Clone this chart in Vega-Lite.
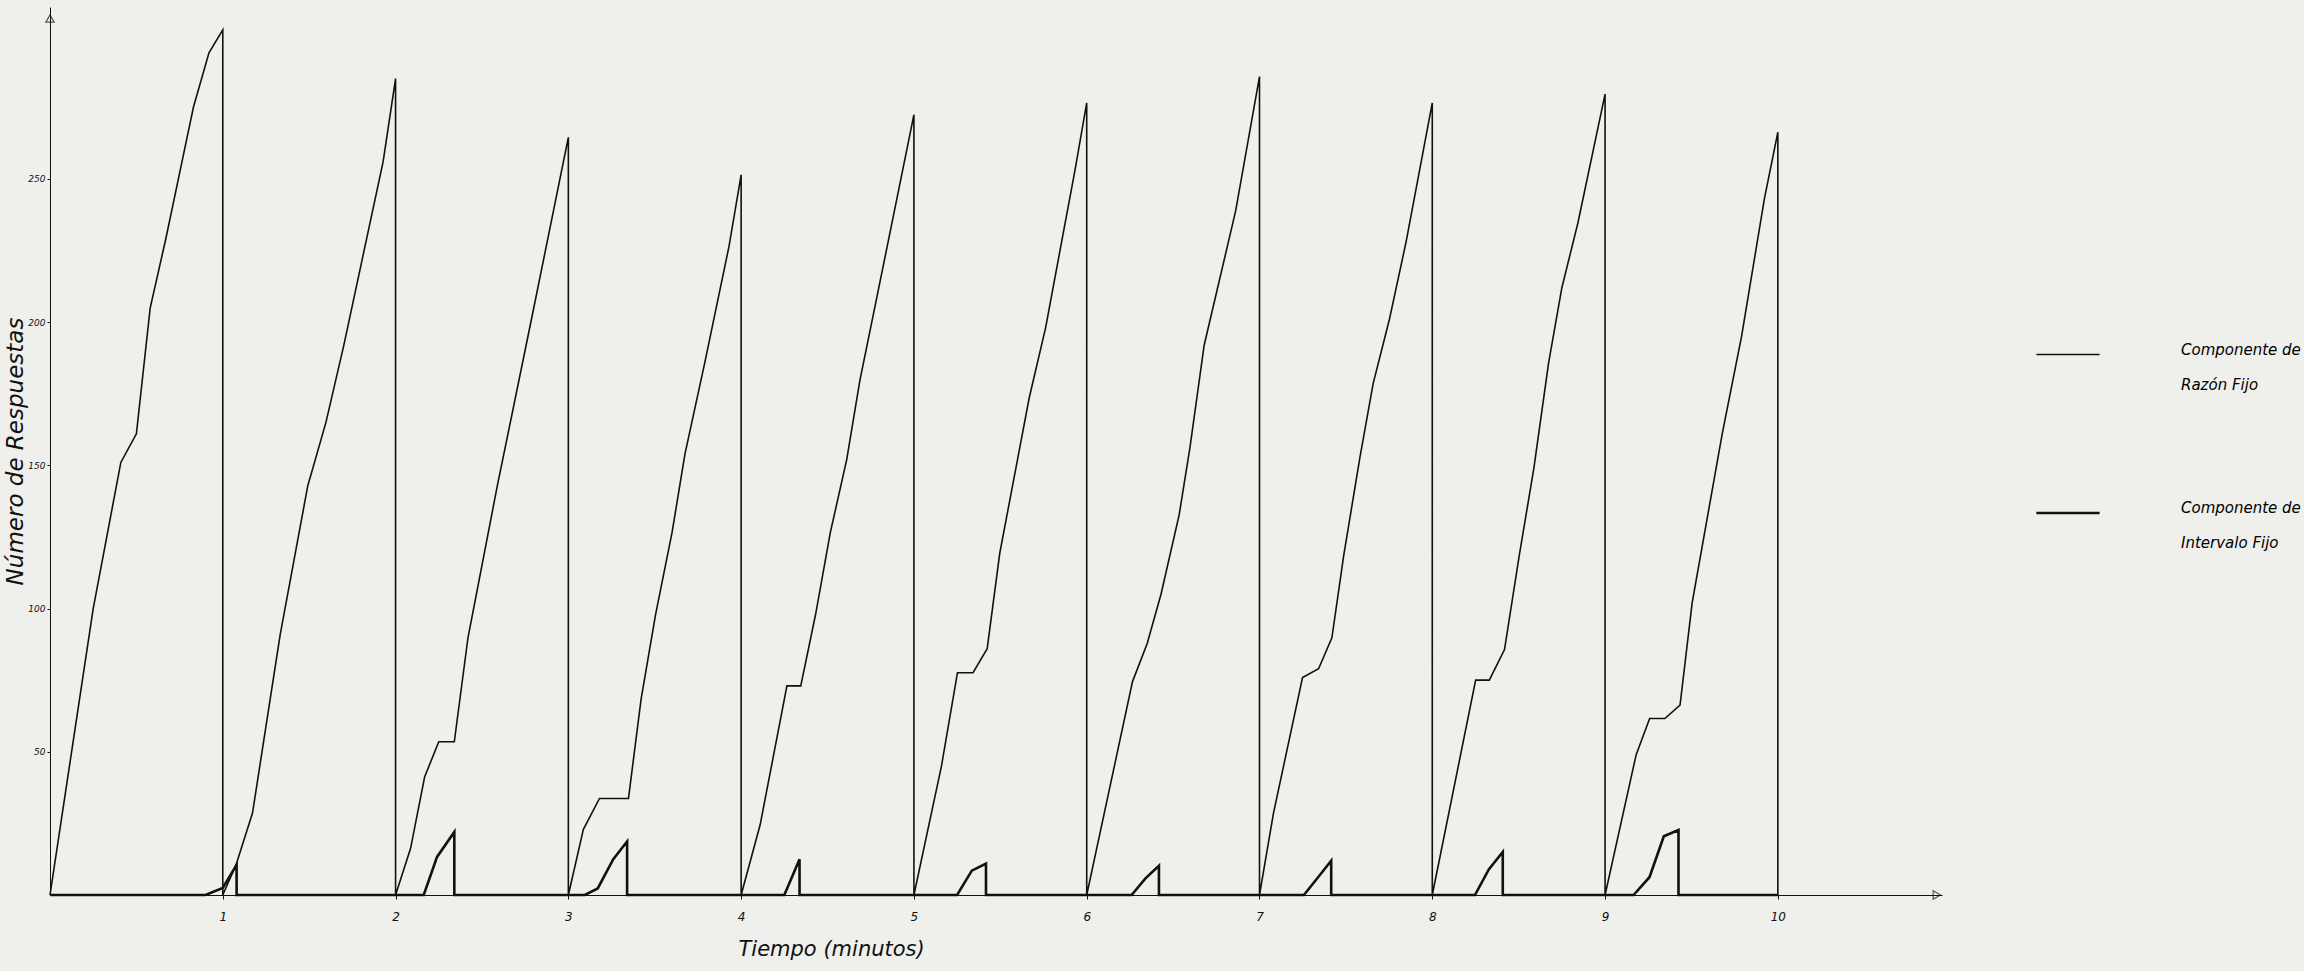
{
  "$schema": "https://vega.github.io/schema/vega-lite/v6.json",
  "autosize": {"type": "none"},
  "padding": {"left": 50, "top": 7, "right": 362, "bottom": 76},
  "width": 1892,
  "height": 888,
  "background": "#efefec",
  "config": {
    "view": {"stroke": null},
    "font": "DejaVu Sans",
    "style": {"guide-label": {"lineHeight": 35}},
    "axis": {"grid": false, "domainColor": "#111", "tickColor": "#111", "labelColor": "#111", "titleColor": "#111", "labelFontStyle": "italic", "titleFontStyle": "italic", "titleFontWeight": "normal"}
  },
  "datasets": {
    "series": [
      {"i":1,"s":"Razón Fijo","t":0,"v":0},
      {"i":2,"s":"Razón Fijo","t":0.25,"v":100},
      {"i":3,"s":"Razón Fijo","t":0.41,"v":151},
      {"i":4,"s":"Razón Fijo","t":0.5,"v":161},
      {"i":5,"s":"Razón Fijo","t":0.58,"v":205},
      {"i":6,"s":"Razón Fijo","t":0.67,"v":229},
      {"i":7,"s":"Razón Fijo","t":0.75,"v":252},
      {"i":8,"s":"Razón Fijo","t":0.83,"v":275},
      {"i":9,"s":"Razón Fijo","t":0.92,"v":294},
      {"i":10,"s":"Razón Fijo","t":1,"v":302},
      {"i":11,"s":"Razón Fijo","t":1,"v":0},
      {"i":12,"s":"Razón Fijo","t":1.077,"v":10.6},
      {"i":13,"s":"Razón Fijo","t":1.172,"v":28.6},
      {"i":14,"s":"Razón Fijo","t":1.332,"v":90.8},
      {"i":15,"s":"Razón Fijo","t":1.492,"v":142.9},
      {"i":16,"s":"Razón Fijo","t":1.597,"v":165},
      {"i":17,"s":"Razón Fijo","t":1.7,"v":191.8},
      {"i":18,"s":"Razón Fijo","t":1.928,"v":256},
      {"i":19,"s":"Razón Fijo","t":2,"v":285},
      {"i":20,"s":"Razón Fijo","t":2,"v":0},
      {"i":21,"s":"Razón Fijo","t":2.087,"v":16.3},
      {"i":22,"s":"Razón Fijo","t":2.168,"v":41.2},
      {"i":23,"s":"Razón Fijo","t":2.25,"v":53.5},
      {"i":24,"s":"Razón Fijo","t":2.34,"v":53.5},
      {"i":25,"s":"Razón Fijo","t":2.419,"v":89.8},
      {"i":26,"s":"Razón Fijo","t":2.589,"v":142.9},
      {"i":27,"s":"Razón Fijo","t":2.8,"v":205},
      {"i":28,"s":"Razón Fijo","t":3,"v":264.5},
      {"i":29,"s":"Razón Fijo","t":3,"v":0},
      {"i":30,"s":"Razón Fijo","t":3.087,"v":22.9},
      {"i":31,"s":"Razón Fijo","t":3.18,"v":33.7},
      {"i":32,"s":"Razón Fijo","t":3.348,"v":33.7},
      {"i":33,"s":"Razón Fijo","t":3.421,"v":68.4},
      {"i":34,"s":"Razón Fijo","t":3.505,"v":98},
      {"i":35,"s":"Razón Fijo","t":3.6,"v":126.5},
      {"i":36,"s":"Razón Fijo","t":3.675,"v":154},
      {"i":37,"s":"Razón Fijo","t":3.789,"v":185.7},
      {"i":38,"s":"Razón Fijo","t":3.93,"v":226.5},
      {"i":39,"s":"Razón Fijo","t":4,"v":251.4},
      {"i":40,"s":"Razón Fijo","t":4,"v":0},
      {"i":41,"s":"Razón Fijo","t":4.11,"v":24.5},
      {"i":42,"s":"Razón Fijo","t":4.265,"v":73},
      {"i":43,"s":"Razón Fijo","t":4.345,"v":73},
      {"i":44,"s":"Razón Fijo","t":4.431,"v":98},
      {"i":45,"s":"Razón Fijo","t":4.516,"v":126.5},
      {"i":46,"s":"Razón Fijo","t":4.611,"v":152},
      {"i":47,"s":"Razón Fijo","t":4.687,"v":179.6},
      {"i":48,"s":"Razón Fijo","t":4.79,"v":210},
      {"i":49,"s":"Razón Fijo","t":5,"v":272.4},
      {"i":50,"s":"Razón Fijo","t":5,"v":0},
      {"i":51,"s":"Razón Fijo","t":5.159,"v":44.9},
      {"i":52,"s":"Razón Fijo","t":5.252,"v":77.6},
      {"i":53,"s":"Razón Fijo","t":5.342,"v":77.6},
      {"i":54,"s":"Razón Fijo","t":5.424,"v":86},
      {"i":55,"s":"Razón Fijo","t":5.497,"v":119.4},
      {"i":56,"s":"Razón Fijo","t":5.667,"v":173.5},
      {"i":57,"s":"Razón Fijo","t":5.762,"v":198},
      {"i":58,"s":"Razón Fijo","t":5.932,"v":253},
      {"i":59,"s":"Razón Fijo","t":6,"v":276.5},
      {"i":60,"s":"Razón Fijo","t":6,"v":0},
      {"i":61,"s":"Razón Fijo","t":6.265,"v":74.5},
      {"i":62,"s":"Razón Fijo","t":6.35,"v":87.8},
      {"i":63,"s":"Razón Fijo","t":6.43,"v":105},
      {"i":64,"s":"Razón Fijo","t":6.535,"v":132.7},
      {"i":65,"s":"Razón Fijo","t":6.597,"v":156},
      {"i":66,"s":"Razón Fijo","t":6.68,"v":192},
      {"i":67,"s":"Razón Fijo","t":6.862,"v":238.8},
      {"i":68,"s":"Razón Fijo","t":7,"v":285.7},
      {"i":69,"s":"Razón Fijo","t":7,"v":0},
      {"i":70,"s":"Razón Fijo","t":7.081,"v":28.6},
      {"i":71,"s":"Razón Fijo","t":7.249,"v":75.9},
      {"i":72,"s":"Razón Fijo","t":7.342,"v":79},
      {"i":73,"s":"Razón Fijo","t":7.419,"v":89.8},
      {"i":74,"s":"Razón Fijo","t":7.487,"v":118.4},
      {"i":75,"s":"Razón Fijo","t":7.582,"v":153},
      {"i":76,"s":"Razón Fijo","t":7.658,"v":178.6},
      {"i":77,"s":"Razón Fijo","t":7.752,"v":201},
      {"i":78,"s":"Razón Fijo","t":7.847,"v":227.6},
      {"i":79,"s":"Razón Fijo","t":8,"v":276.5},
      {"i":80,"s":"Razón Fijo","t":8,"v":0},
      {"i":81,"s":"Razón Fijo","t":8.251,"v":75},
      {"i":82,"s":"Razón Fijo","t":8.33,"v":75},
      {"i":83,"s":"Razón Fijo","t":8.418,"v":85.7},
      {"i":84,"s":"Razón Fijo","t":8.503,"v":118.4},
      {"i":85,"s":"Razón Fijo","t":8.588,"v":149},
      {"i":86,"s":"Razón Fijo","t":8.673,"v":185.7},
      {"i":87,"s":"Razón Fijo","t":8.75,"v":212},
      {"i":88,"s":"Razón Fijo","t":8.843,"v":234.7},
      {"i":89,"s":"Razón Fijo","t":9,"v":279.6},
      {"i":90,"s":"Razón Fijo","t":9,"v":0},
      {"i":91,"s":"Razón Fijo","t":9.18,"v":49},
      {"i":92,"s":"Razón Fijo","t":9.258,"v":61.6},
      {"i":93,"s":"Razón Fijo","t":9.346,"v":61.6},
      {"i":94,"s":"Razón Fijo","t":9.434,"v":66.3},
      {"i":95,"s":"Razón Fijo","t":9.504,"v":102},
      {"i":96,"s":"Razón Fijo","t":9.678,"v":161},
      {"i":97,"s":"Razón Fijo","t":9.79,"v":195},
      {"i":98,"s":"Razón Fijo","t":9.922,"v":243},
      {"i":99,"s":"Razón Fijo","t":10,"v":266.3},
      {"i":100,"s":"Razón Fijo","t":10,"v":0},
      {"i":201,"s":"Intervalo Fijo","t":0,"v":0},
      {"i":202,"s":"Intervalo Fijo","t":0.9,"v":0},
      {"i":203,"s":"Intervalo Fijo","t":1.0,"v":2.5},
      {"i":204,"s":"Intervalo Fijo","t":1.08,"v":10.5},
      {"i":205,"s":"Intervalo Fijo","t":1.08,"v":0},
      {"i":206,"s":"Intervalo Fijo","t":2.163,"v":0},
      {"i":207,"s":"Intervalo Fijo","t":2.24,"v":13.3},
      {"i":208,"s":"Intervalo Fijo","t":2.34,"v":22},
      {"i":209,"s":"Intervalo Fijo","t":2.34,"v":0},
      {"i":210,"s":"Intervalo Fijo","t":3.095,"v":0},
      {"i":211,"s":"Intervalo Fijo","t":3.17,"v":2.3},
      {"i":212,"s":"Intervalo Fijo","t":3.26,"v":12.5},
      {"i":213,"s":"Intervalo Fijo","t":3.34,"v":18.7},
      {"i":214,"s":"Intervalo Fijo","t":3.34,"v":0},
      {"i":215,"s":"Intervalo Fijo","t":4.25,"v":0},
      {"i":216,"s":"Intervalo Fijo","t":4.338,"v":12.5},
      {"i":217,"s":"Intervalo Fijo","t":4.338,"v":0},
      {"i":218,"s":"Intervalo Fijo","t":5.25,"v":0},
      {"i":219,"s":"Intervalo Fijo","t":5.335,"v":8.5},
      {"i":220,"s":"Intervalo Fijo","t":5.417,"v":11},
      {"i":221,"s":"Intervalo Fijo","t":5.417,"v":0},
      {"i":222,"s":"Intervalo Fijo","t":6.26,"v":0},
      {"i":223,"s":"Intervalo Fijo","t":6.34,"v":5.8},
      {"i":224,"s":"Intervalo Fijo","t":6.418,"v":10.2},
      {"i":225,"s":"Intervalo Fijo","t":6.418,"v":0},
      {"i":226,"s":"Intervalo Fijo","t":7.257,"v":0},
      {"i":227,"s":"Intervalo Fijo","t":7.33,"v":5.5},
      {"i":228,"s":"Intervalo Fijo","t":7.415,"v":12},
      {"i":229,"s":"Intervalo Fijo","t":7.415,"v":0},
      {"i":230,"s":"Intervalo Fijo","t":8.247,"v":0},
      {"i":231,"s":"Intervalo Fijo","t":8.328,"v":9},
      {"i":232,"s":"Intervalo Fijo","t":8.408,"v":15},
      {"i":233,"s":"Intervalo Fijo","t":8.408,"v":0},
      {"i":234,"s":"Intervalo Fijo","t":9.165,"v":0},
      {"i":235,"s":"Intervalo Fijo","t":9.257,"v":6.2},
      {"i":236,"s":"Intervalo Fijo","t":9.34,"v":20.5},
      {"i":237,"s":"Intervalo Fijo","t":9.425,"v":22.7},
      {"i":238,"s":"Intervalo Fijo","t":9.425,"v":0},
      {"i":239,"s":"Intervalo Fijo","t":10,"v":0}
    ]
  },
  "layer": [
    {
      "data": {"name": "series"},
      "mark": {"type": "line", "strokeJoin": "miter", "interpolate": "linear"},
      "encoding": {
        "x": {"field": "t", "type": "quantitative", "scale": {"domain": [0, 10.95], "nice": false, "zero": false},
          "axis": {"values": [1,2,3,4,5,6,7,8,9,10], "format": "d", "labelFontSize": 12, "tickSize": 4, "labelPadding": 12, "title": "Tiempo    (minutos)", "titleFontSize": 21, "titlePadding": 16, "titleAnchor": "start", "titleX": 688}},
        "y": {"field": "v", "type": "quantitative", "scale": {"domain": [0, 310], "nice": false},
          "axis": {"values": [50,100,150,200,250], "labelFontSize": 9, "tickSize": 3, "labelPadding": 2, "title": "Número de Respuestas", "titleFontSize": 23, "titlePadding": 0}},
        "order": {"field": "i", "type": "quantitative"},
        "color": {"field": "s", "type": "nominal", "scale": {"domain": ["Razón Fijo", "Intervalo Fijo"], "range": ["#111111", "#111111"]},
          "legend": {"orient": "none", "legendX": 1985, "legendY": 315, "title": null, "symbolType": "stroke", "symbolSize": 4000, "symbolStrokeWidth": 1.8, "labelExpr": "['Componente de', datum.label]", "labelFontSize": 15, "labelFontStyle": "italic", "labelOffset": 80, "rowPadding": 87, "labelBaseline": "alphabetic", "labelLimit": 300}},
        "strokeWidth": {"field": "s", "type": "nominal", "scale": {"domain": ["Razón Fijo", "Intervalo Fijo"], "range": [1.6, 2.6]}, "legend": null}
      }
    },
    {
      "data": {"values": [{"t": 0, "v": 306}]},
      "mark": {"type": "point", "shape": "triangle-up", "filled": false, "color": "#111", "size": 70, "strokeWidth": 1.2},
      "encoding": {"x": {"field": "t", "type": "quantitative"}, "y": {"field": "v", "type": "quantitative"}}
    },
    {
      "data": {"values": [{"t": 10.92, "v": 0}]},
      "mark": {"type": "point", "shape": "triangle-right", "filled": false, "color": "#111", "size": 70, "strokeWidth": 1.2},
      "encoding": {"x": {"field": "t", "type": "quantitative"}, "y": {"field": "v", "type": "quantitative"}}
    }
  ]
}
